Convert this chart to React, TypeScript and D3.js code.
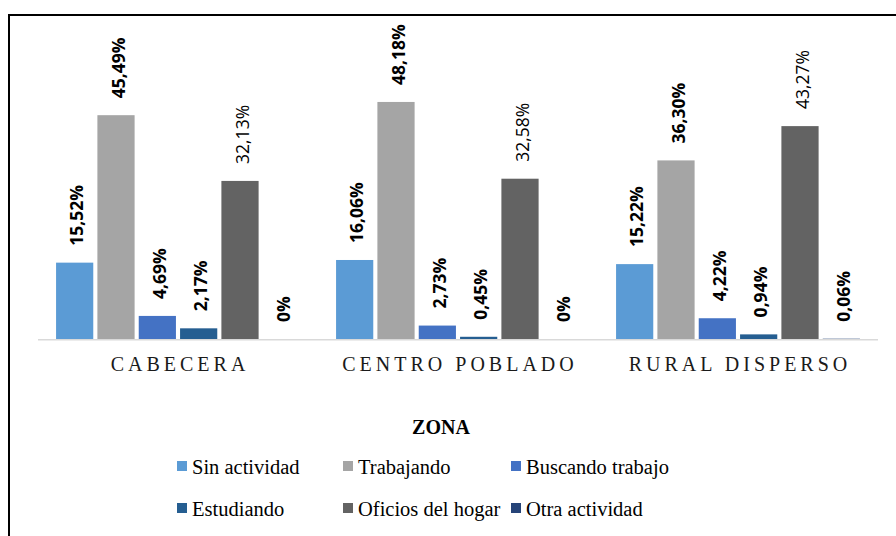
import React from "react";
import * as d3 from "d3";

const categories = ["CABECERA", "CENTRO POBLADO", "RURAL DISPERSO"];
const seriesNames = [
  "Sin actividad",
  "Trabajando",
  "Buscando trabajo",
  "Estudiando",
  "Oficios del hogar",
  "Otra actividad",
];
const sinActividad = [15.52, 16.06, 15.22];
const trabajando = [45.49, 48.18, 36.3];
const buscandoTrabajo = [4.69, 2.73, 4.22];
const estudiando = [2.17, 0.45, 0.94];
const oficiosHogar = [32.13, 32.58, 43.27];
const otraActividad = [0, 0, 0.06];
const seriesValues = [sinActividad, trabajando, buscandoTrabajo, estudiando, oficiosHogar, otraActividad];
const colors = ["#5B9BD5", "#A5A5A5", "#4472C4", "#255E91", "#636363", "#264478"];
const boldLabels = [true, true, true, true, false, true];

const fmt = (v: number) => {
  if (v === 0) return "0%";
  return v.toFixed(2).replace(".", ",") + "%";
};

export default function App() {
  const W = 896;
  const H = 536;
  const x0 = d3.scaleBand<string>().domain(categories).range([40, 880]).paddingInner(0).paddingOuter(0);
  const x1 = d3
    .scaleBand<string>()
    .domain(seriesNames)
    .range([14, 262])
    .paddingInner(0.1)
    .paddingOuter(0.05);
  const y = d3.scaleLinear().domain([0, 50]).range([339, 93]);

  const legendCols = [177, 343, 511];
  const legendRows = [474, 516];

  return (
    <div style={{ position: "absolute", left: 0, top: 0 }}>
      <svg width={W} height={H} style={{ display: "block", background: "#fff" }}>
        <rect x={0} y={0} width={W} height={H} fill="#fff" />
        {/* frame */}
        <line x1={9} y1={14} x2={9} y2={H} stroke="#000" strokeWidth={2} />
        <line x1={8} y1={15} x2={W} y2={15} stroke="#000" strokeWidth={2} />

        {categories.map((c, ci) => (
          <g key={c} transform={`translate(${x0(c)},0)`}>
            {seriesNames.map((s, si) => {
              const v = seriesValues[si][ci];
              const bx = x1(s)!;
              const bw = x1.bandwidth();
              const cx = bx + bw / 2 + 2.5;
              const ly = y(v) - 17;
              return (
                <g key={s}>
                  {v > 0 && (
                    <rect x={bx} y={y(v)} width={bw} height={y(0) - y(v)} fill={colors[si]} />
                  )}
                  <text
                    transform={`translate(${cx},${ly}) rotate(-90)`}
                    dy="0.35em"
                    textAnchor="start"
                    fontFamily="'Open Sans', sans-serif"
                    fontSize={17.5}
                    fontWeight={boldLabels[si] ? 700 : 400}
                    fill="#000"
                  >
                    {fmt(v)}
                  </text>
                </g>
              );
            })}
            <text
              x={x0.bandwidth() / 2}
              y={371}
              textAnchor="middle"
              fontFamily="'Liberation Serif', 'Times New Roman', serif"
              fontSize={20}
              letterSpacing={4}
              fill="#1a1a1a"
            >
              {c}
            </text>
          </g>
        ))}

        <line x1={38} y1={339.75} x2={878} y2={339.75} stroke="#D9D9D9" strokeWidth={1.5} />

        <text
          x={441}
          y={434}
          textAnchor="middle"
          fontFamily="'Liberation Serif', 'Times New Roman', serif"
          fontSize={20}
          fontWeight={700}
          fill="#000"
        >
          ZONA
        </text>

        {seriesNames.map((s, si) => {
          const col = si % 3;
          const row = Math.floor(si / 3);
          const lx = legendCols[col];
          const ly = legendRows[row];
          return (
            <g key={s}>
              <rect x={lx} y={ly - 13} width={10} height={10} fill={colors[si]} />
              <text
                x={lx + 15}
                y={ly}
                fontFamily="'Liberation Serif', 'Times New Roman', serif"
                fontSize={20.5}
                fill="#000"
              >
                {s}
              </text>
            </g>
          );
        })}
      </svg>
    </div>
  );
}
